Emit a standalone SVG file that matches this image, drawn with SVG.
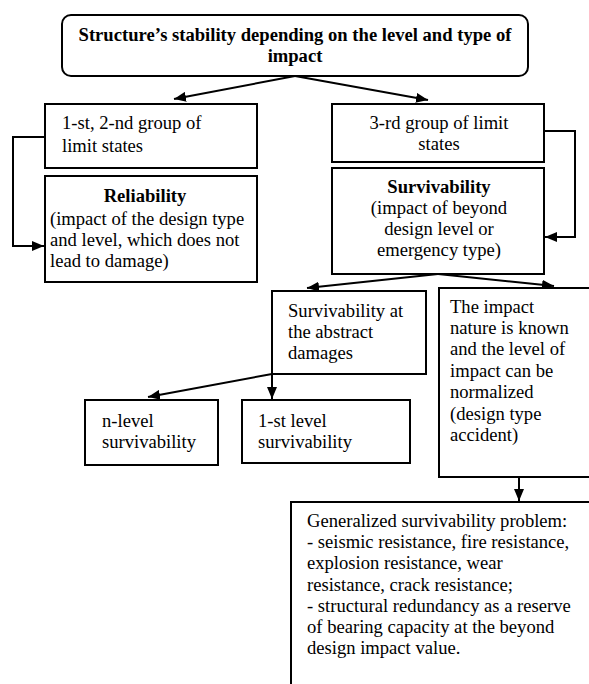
<svg xmlns="http://www.w3.org/2000/svg" width="589" height="684" viewBox="0 0 589 684">
<defs>
<marker id="ah" markerUnits="userSpaceOnUse" markerWidth="13" markerHeight="10" refX="12" refY="5" orient="auto">
<path d="M0,0 L12,5 L0,10 z" fill="#000"/>
</marker>
<style>
.box{fill:#fff;stroke:#000;stroke-width:2}
.t{font-family:"Liberation Serif","Times New Roman",serif;font-size:18.6px;fill:#000}
.b{font-weight:bold}
.c{text-anchor:middle}
.ln{fill:none;stroke:#000;stroke-width:2;marker-end:url(#ah)}
</style>
</defs>
<rect width="589" height="684" fill="#fff"/>
<g id="connectors">
<line class="ln" x1="295" y1="76" x2="174" y2="99"/>
<line class="ln" x1="295" y1="76" x2="428" y2="100"/>
<polyline class="ln" points="45,137 13,137 13,246 44,246"/>
<polyline class="ln" points="544,131 575,131 575,237 545,237"/>
<line class="ln" x1="438" y1="274" x2="307" y2="288"/>
<line class="ln" x1="438" y1="274" x2="554" y2="286"/>
<line class="ln" x1="272" y1="374" x2="148" y2="397"/>
<line class="ln" x1="272" y1="374" x2="272" y2="399"/>
<line class="ln" x1="519" y1="477" x2="519" y2="501"/>
</g>
<g id="title">
<rect class="box" x="62" y="15" width="466" height="61" rx="9"/>
<text class="t b c" x="295" y="41">Structure’s stability depending on the level and type of</text>
<text class="t b c" x="295" y="62">impact</text>
</g>
<g id="group12">
<rect class="box" x="45" y="104" width="212" height="64"/>
<text class="t" x="62" y="129">1-st, 2-nd group of</text>
<text class="t" x="62" y="152">limit states</text>
</g>
<g id="reliability">
<rect class="box" x="45" y="176" width="212" height="106"/>
<text class="t b c" x="145" y="202">Reliability</text>
<text class="t" x="50" y="225">(impact of the design type</text>
<text class="t" x="50" y="246">and level, which does not</text>
<text class="t" x="50" y="267">lead to damage)</text>
</g>
<g id="group3">
<rect class="box" x="332" y="104" width="212" height="58"/>
<text class="t c" x="439" y="129">3-rd group of limit</text>
<text class="t c" x="439" y="150">states</text>
</g>
<g id="survivability">
<rect class="box" x="332" y="168" width="212" height="106"/>
<text class="t b c" x="439" y="193">Survivability</text>
<text class="t c" x="439" y="214">(impact of beyond</text>
<text class="t c" x="439" y="235">design level or</text>
<text class="t c" x="439" y="256">emergency type)</text>
</g>
<g id="abstract">
<rect class="box" x="272" y="291" width="154" height="83"/>
<text class="t" x="288" y="317">Survivability at</text>
<text class="t" x="288" y="338">the abstract</text>
<text class="t" x="288" y="359">damages</text>
</g>
<g id="known">
<rect class="box" x="439" y="288" width="170" height="189"/>
<text class="t" x="450" y="313">The impact</text>
<text class="t" x="450" y="334">nature is known</text>
<text class="t" x="450" y="355">and the level of</text>
<text class="t" x="450" y="377">impact can be</text>
<text class="t" x="450" y="398">normalized</text>
<text class="t" x="450" y="420">(design type</text>
<text class="t" x="450" y="441">accident)</text>
</g>
<g id="nlevel">
<rect class="box" x="85" y="400" width="133" height="65"/>
<text class="t" x="102" y="427">n-level</text>
<text class="t" x="102" y="448">survivability</text>
</g>
<g id="firstlevel">
<rect class="box" x="242" y="400" width="168" height="63"/>
<text class="t" x="258" y="427">1-st level</text>
<text class="t" x="258" y="448">survivability</text>
</g>
<g id="generalized">
<rect class="box" x="291" y="502" width="320" height="200"/>
<text class="t" x="307" y="527">Generalized survivability problem:</text>
<text class="t" x="307" y="548">- seismic resistance, fire resistance,</text>
<text class="t" x="307" y="569">explosion resistance, wear</text>
<text class="t" x="307" y="591">resistance, crack resistance;</text>
<text class="t" x="307" y="612">- structural redundancy as a reserve</text>
<text class="t" x="307" y="633">of bearing capacity at the beyond</text>
<text class="t" x="307" y="654">design impact value.</text>
</g>
</svg>
